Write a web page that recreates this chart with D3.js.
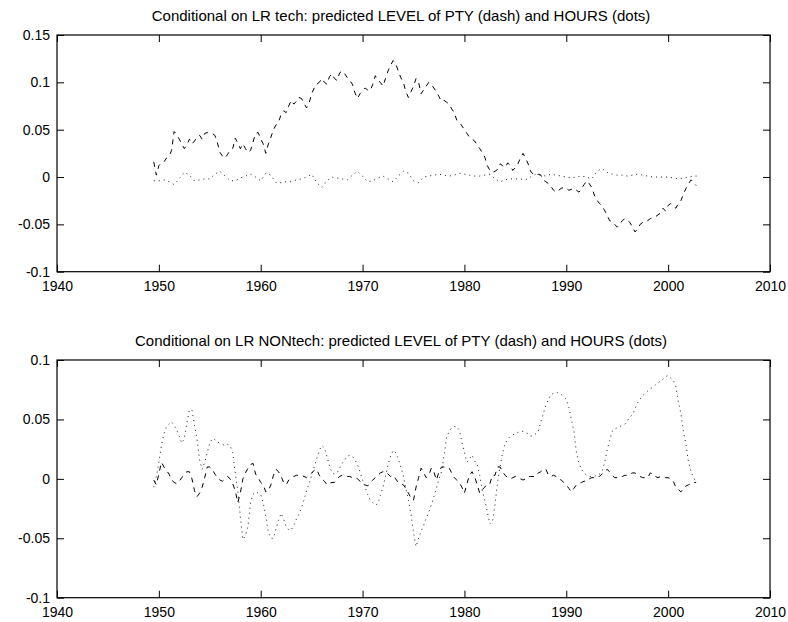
<!DOCTYPE html>
<html>
<head>
<meta charset="utf-8">
<script src="https://cdn.jsdelivr.net/npm/d3@7"></script>
<style>
  body { margin: 0; background: #fff; }
  text { font-family: "Liberation Sans", Arial, sans-serif; fill: #000; }
</style>
</head>
<body>
<svg id="chart" width="788" height="622"></svg>
<script>
// x axis (years)
var xTicks = [1940, 1950, 1960, 1970, 1980, 1990, 2000, 2010];
var xTickLabels = ['1940', '1950', '1960', '1970', '1980', '1990', '2000', '2010'];

// y axes
var yTicksTop = [-0.1, -0.05, 0, 0.05, 0.1, 0.15];
var yTickLabelsTop = ['-0.1', '-0.05', '0', '0.05', '0.1', '0.15'];
var yTicksBottom = [-0.1, -0.05, 0, 0.05, 0.1];
var yTickLabelsBottom = ['-0.1', '-0.05', '0', '0.05', '0.1'];

var titles = [
  'Conditional on LR tech: predicted LEVEL of PTY (dash) and HOURS (dots)',
  'Conditional on LR NONtech: predicted LEVEL of PTY (dash) and HOURS (dots)'
];

// quarterly series start 1949.5 (step 0.25), semi-annual start 1949.5 (step 0.5)
var quarterStart = 1949.5, quarterStep = 0.25;
var halfStart = 1949.5, halfStep = 0.5;

// LR tech: PTY level, quarterly
var ptyTech = [
  0.016, 0.002,
  0.012, 0.015, 0.016, 0.02,
  0.022, 0.028, 0.048, 0.045,
  0.04, 0.035, 0.03, 0.034,
  0.04, 0.035, 0.038, 0.042,
  0.044, 0.04, 0.046, 0.047,
  0.046, 0.046, 0.044, 0.036,
  0.026, 0.022, 0.02, 0.024,
  0.028, 0.03, 0.041, 0.036,
  0.03, 0.035, 0.03, 0.026,
  0.028, 0.037, 0.046, 0.047,
  0.04, 0.035, 0.025, 0.035,
  0.042, 0.05, 0.055, 0.058,
  0.066, 0.07, 0.068, 0.075,
  0.081, 0.077, 0.08, 0.084,
  0.083, 0.078, 0.073, 0.078,
  0.088, 0.094, 0.098, 0.1,
  0.104, 0.1, 0.098, 0.106,
  0.109, 0.104, 0.102, 0.11,
  0.112, 0.109, 0.105, 0.102,
  0.098, 0.089, 0.083, 0.088,
  0.091, 0.094, 0.092, 0.091,
  0.098, 0.107, 0.102, 0.1,
  0.096, 0.104, 0.112, 0.118,
  0.123, 0.12, 0.112, 0.105,
  0.1, 0.09, 0.084, 0.09,
  0.096, 0.104, 0.1, 0.088,
  0.092, 0.096, 0.1, 0.098,
  0.094, 0.09, 0.085, 0.08,
  0.081, 0.079, 0.077, 0.072,
  0.068, 0.06, 0.058, 0.054,
  0.05, 0.046, 0.042, 0.04,
  0.038, 0.034, 0.03, 0.026,
  0.021, 0.012, 0.007, 0.005,
  0.006, 0.008, 0.014, 0.012,
  0.01, 0.015, 0.012, 0.007,
  0.01, 0.014, 0.02, 0.025,
  0.02, 0.014, 0.006, 0.003,
  0.002, 0.003, 0.002, -0.003,
  -0.005, -0.007, -0.01, -0.014,
  -0.016, -0.014, -0.012, -0.011,
  -0.012, -0.014, -0.013, -0.012,
  -0.014, -0.016, -0.012, -0.008,
  -0.004, -0.007, -0.011, -0.019,
  -0.024, -0.028, -0.03, -0.035,
  -0.04, -0.046, -0.047, -0.05,
  -0.053, -0.05, -0.046, -0.044,
  -0.046, -0.048, -0.053, -0.058,
  -0.055, -0.05, -0.048, -0.048,
  -0.046, -0.044, -0.043, -0.042,
  -0.04, -0.038, -0.033, -0.036,
  -0.03, -0.028, -0.031, -0.033,
  -0.028, -0.025, -0.018, -0.012,
  -0.007, -0.003, -0.006, -0.009
];

// LR tech: HOURS level, semi-annual
var hoursTech = [
  -0.004, -0.004, -0.003, -0.005, -0.008, -0.002, 0.005, 0.002, -0.004, -0.003,
  -0.002, -0.002, 0.003, 0.006, 0.001, -0.004, -0.004, -0.001, 0.001, 0.003,
  0, -0.004, 0.004, 0.002, -0.006, -0.006, -0.005, -0.005, -0.003, -0.002,
  0, 0.003, -0.006, -0.011, -0.004, 0, -0.001, -0.002, -0.003, 0.002,
  0.006, 0.001, -0.005, -0.004, -0.001, 0.001, -0.002, -0.005, 0.001, 0.006,
  0.004, -0.004, -0.006, 0, 0.001, 0.002, 0.003, 0.002, 0.001, 0.002,
  0.004, 0.003, 0.002, 0.001, 0.001, 0.002, 0.003, -0.002, -0.005, -0.003,
  -0.002, -0.002, -0.002, -0.003, 0, 0.003, 0.002, 0.001, 0.003, 0.002,
  0.001, 0, -0.001, 0, 0.001, 0, -0.002, 0.006, 0.009, 0.005,
  0.003, 0.002, 0.002, 0.001, 0.002, 0.003, 0.002, 0.001, 0, 0,
  0, 0, -0.001, -0.002, -0.001, 0, 0.001, 0.001
];

// LR NONtech: PTY level, quarterly
var ptyNontech = [
  -0.001, -0.005,
  0.004, 0.014, 0.01, 0.007,
  0.004, -0.001, -0.003, -0.004,
  -0.002, 0.001, 0.004, 0.006,
  0.006, 0.0, -0.01, -0.015,
  -0.012, -0.007, 0.001, 0.01,
  0.01, 0.008, 0.004, 0.001,
  -0.001, -0.002, 0.0, 0.002,
  0.0, -0.004, -0.01, -0.02,
  -0.012, 0.0, 0.005, 0.009,
  0.012, 0.013, 0.004, 0.001,
  -0.003, -0.005, -0.011, -0.01,
  -0.005, 0.003, 0.008, 0.006,
  0.002, -0.003, -0.005, -0.001,
  0.001, 0.002, 0.003, 0.003,
  0.003, 0.002, 0.001, 0.003,
  0.005, 0.007, 0.008, 0.003,
  0.0, -0.002, -0.005, -0.004,
  -0.003, -0.003, 0.0, 0.002,
  0.003, 0.002, 0.002, 0.002,
  0.001, 0.001, 0.0, -0.002,
  -0.004, -0.005, -0.006, -0.003,
  -0.001, 0.001, 0.003, 0.005,
  0.006, 0.006, 0.004, 0.002,
  0.003, 0.0, -0.003, -0.004,
  -0.005, -0.008, -0.012, -0.016,
  -0.018, -0.007, 0.001, 0.009,
  0.005, 0.001, 0.003, 0.009,
  0.006, -0.001, 0.006, 0.01,
  0.01, 0.009, 0.009, 0.005,
  0.001, -0.001, -0.003, -0.007,
  -0.012, -0.004, 0.003, 0.006,
  0.002, -0.005, -0.012, -0.009,
  -0.007, -0.004, -0.004, 0.003,
  0.003, 0.01, 0.01, 0.006,
  0.003, 0.001, 0.0, 0.001,
  0.002, 0.001, 0.0, -0.001,
  0.0, 0.002, 0.002, 0.002,
  0.002, 0.005, 0.006, 0.008,
  0.008, 0.003, 0.002, 0.003,
  0.002, 0.0, -0.001, -0.003,
  -0.005, -0.008, -0.011, -0.008,
  -0.005, -0.004, -0.003, -0.002,
  -0.002, 0.0, 0.001, 0.001,
  0.002, 0.002, 0.004, 0.006,
  0.008, 0.006, 0.003, 0.001,
  0.001, 0.002, 0.002, 0.003,
  0.003, 0.004, 0.005, 0.005,
  0.003, 0.002, 0.001, 0.001,
  0.001, 0.005, 0.004, 0.002,
  0.001, 0.002, 0.002, 0.001,
  0.001, 0.0, -0.002, -0.007,
  -0.009, -0.011, -0.008, -0.006,
  -0.005, -0.004, -0.003, -0.003
];

// LR NONtech: HOURS level, quarterly
var hoursNontech = [
  -0.007, 0.002,
  0.014, 0.028, 0.038, 0.044,
  0.046, 0.048, 0.045, 0.041,
  0.036, 0.030, 0.034, 0.047,
  0.058, 0.058, 0.045, 0.033,
  0.016, 0.008, 0.014, 0.022,
  0.030, 0.034, 0.033, 0.031,
  0.030, 0.029, 0.028, 0.029,
  0.028, 0.022, 0.005, -0.01,
  -0.032, -0.051, -0.048, -0.040,
  -0.02, -0.013, -0.011, -0.012,
  -0.013, -0.02, -0.032, -0.045,
  -0.05, -0.05, -0.042, -0.035,
  -0.029, -0.034, -0.040, -0.043,
  -0.043, -0.039, -0.034, -0.030,
  -0.024, -0.018, -0.010, -0.004,
  0.003, 0.010, 0.017, 0.024,
  0.028, 0.026, 0.019, 0.011,
  0.005, 0.004, 0.005, 0.009,
  0.013, 0.016, 0.019, 0.020,
  0.019, 0.016, 0.012, 0.006,
  -0.001, -0.007, -0.013, -0.018,
  -0.020, -0.022, -0.021, -0.014,
  -0.007, 0.002, 0.012, 0.019,
  0.024, 0.022, 0.017, 0.010,
  0.003, -0.008, -0.018, -0.030,
  -0.045, -0.057, -0.050, -0.044,
  -0.039, -0.033, -0.028, -0.022,
  -0.015, -0.008, 0.000, 0.006,
  0.020, 0.035, 0.040, 0.043,
  0.044, 0.044, 0.041, 0.031,
  0.022, 0.014, 0.017, 0.020,
  0.015, 0.012, 0.003, -0.010,
  -0.018, -0.028, -0.038, -0.036,
  -0.022, -0.003, 0.010, 0.022,
  0.030, 0.033, 0.036, 0.037,
  0.038, 0.039, 0.040, 0.040,
  0.039, 0.038, 0.036, 0.036,
  0.038, 0.040, 0.048, 0.055,
  0.062, 0.067, 0.071, 0.072,
  0.073, 0.072, 0.071, 0.069,
  0.067, 0.060, 0.050, 0.040,
  0.022, 0.013, 0.008, 0.005,
  0.003, 0.002, 0.002, 0.002,
  0.003, 0.004, 0.006, 0.013,
  0.024, 0.032, 0.040, 0.042,
  0.043, 0.044, 0.045, 0.046,
  0.049, 0.052, 0.054, 0.059,
  0.064, 0.067, 0.070, 0.072,
  0.074, 0.076, 0.077, 0.079,
  0.081, 0.082, 0.084, 0.086,
  0.087, 0.085, 0.083, 0.078,
  0.065, 0.055, 0.040, 0.029,
  0.014, 0.006, 0.001, -0.003
];

var svg = d3.select('#chart');
var left = 57, right = 770;

var x = d3.scaleLinear().domain([1940, 2010]).range([left, right]);

var panels = [
  {title: titles[0], top: 35, bottom: 271.7, domain: [-0.1, 0.15],
   ticks: yTicksTop, labels: yTickLabelsTop, titleY: 21,
   dash: {vals: ptyTech, start: quarterStart, step: quarterStep},
   dots: {vals: hoursTech, start: halfStart, step: halfStep}},
  {title: titles[1], top: 360, bottom: 597.7, domain: [-0.1, 0.1],
   ticks: yTicksBottom, labels: yTickLabelsBottom, titleY: 346,
   dash: {vals: ptyNontech, start: quarterStart, step: quarterStep},
   dots: {vals: hoursNontech, start: quarterStart, step: quarterStep}}
];

panels.forEach(function(p) {
  var y = d3.scaleLinear().domain(p.domain).range([p.bottom, p.top]);
  var g = svg.append('g');

  function drawSeries(s, dash, width) {
    var line = d3.line()
      .x(function(d, i) { return x(s.start + i * s.step); })
      .y(function(d) { return y(d); });
    g.append('path')
      .datum(s.vals)
      .attr('d', line)
      .attr('fill', 'none')
      .attr('stroke', '#000')
      .attr('stroke-width', width)
      .attr('stroke-dasharray', dash);
  }
  drawSeries(p.dash, '5,5', 1);
  drawSeries(p.dots, '1,4', 0.9);

  var tickLen = 7;
  var yLabel = function(d) { return p.labels[p.ticks.indexOf(d)]; };
  var xLabel = function(d) { return xTickLabels[xTicks.indexOf(d)]; };

  var ax = svg.append('g').attr('class', 'axes');
  ax.append('g').attr('transform', 'translate(' + left + ',0)')
    .call(d3.axisLeft(y).tickValues(p.ticks).tickFormat(yLabel).tickSize(-tickLen).tickPadding(7));
  ax.append('g').attr('transform', 'translate(' + right + ',0)')
    .call(d3.axisRight(y).tickValues(p.ticks).tickFormat('').tickSize(-tickLen));
  ax.append('g').attr('transform', 'translate(0,' + p.bottom + ')')
    .call(d3.axisBottom(x).tickValues(xTicks).tickFormat(xLabel).tickSize(-tickLen).tickPadding(9));
  ax.append('g').attr('transform', 'translate(0,' + p.top + ')')
    .call(d3.axisTop(x).tickValues(xTicks).tickFormat('').tickSize(-tickLen));

  ax.selectAll('.domain').remove();
  ax.selectAll('.tick line').attr('stroke', '#000');
  ax.selectAll('.tick text')
    .style('font-family', '"Liberation Sans", Arial, sans-serif')
    .style('font-size', '14px')
    .attr('fill', '#000');

  ax.append('rect')
    .attr('x', left).attr('y', p.top)
    .attr('width', right - left).attr('height', p.bottom - p.top)
    .attr('fill', 'none').attr('stroke', '#000').attr('stroke-width', 1.2);

  svg.append('text')
    .attr('x', 401).attr('y', p.titleY)
    .attr('text-anchor', 'middle')
    .style('font-size', '15px')
    .text(p.title);
});
</script>
</body>
</html>
